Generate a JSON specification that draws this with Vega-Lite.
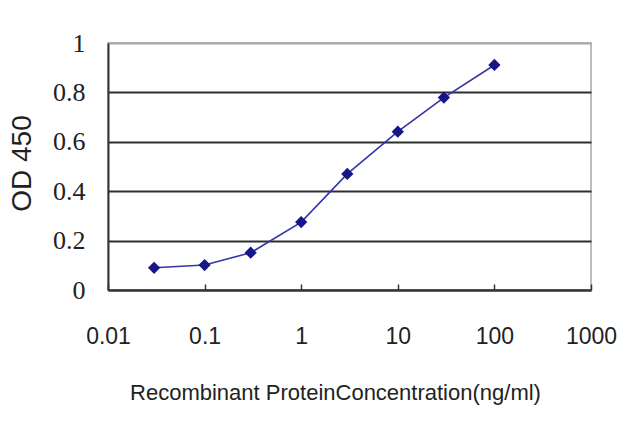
{
  "$schema": "https://vega.github.io/schema/vega-lite/v6.json",
  "width": 483,
  "height": 247,
  "autosize": {"type": "none"},
  "padding": {"left": 108, "top": 43, "right": 49, "bottom": 137},
  "background": "white",
  "config": {
    "view": {"stroke": "#a8a8a8", "strokeWidth": 1.5},
    "axis": {"labelColor": "#222", "titleColor": "#222", "titleFontWeight": "normal"}
  },
  "data": {
    "values": [
      {"conc": 0.03, "od": 0.09},
      {"conc": 0.1, "od": 0.101},
      {"conc": 0.3, "od": 0.151},
      {"conc": 1, "od": 0.275},
      {"conc": 3, "od": 0.47},
      {"conc": 10, "od": 0.641},
      {"conc": 30, "od": 0.779},
      {"conc": 100, "od": 0.911}
    ]
  },
  "encoding": {
    "x": {
      "field": "conc",
      "type": "quantitative",
      "scale": {"type": "log", "domain": [0.01, 1000], "nice": false},
      "axis": {
        "values": [0.01, 0.1, 1, 10, 100, 1000],
        "format": "~g",
        "grid": false,
        "domainColor": "#333333",
        "domainWidth": 2,
        "tickColor": "#333333",
        "tickWidth": 1.5,
        "tickSize": -6,
        "labelFont": "Liberation Sans",
        "labelFontSize": 23,
        "labelBaseline": "middle",
        "labelPadding": 52,
        "labelFlush": false,
        "title": "Recombinant ProteinConcentration(ng/ml)",
        "titleFont": "Liberation Sans",
        "titleFontSize": 22,
        "titleX": 227,
        "titleY": 102,
        "titleAlign": "center",
        "titleBaseline": "middle"
      }
    },
    "y": {
      "field": "od",
      "type": "quantitative",
      "scale": {"domain": [0, 1], "nice": false},
      "axis": {
        "values": [0, 0.2, 0.4, 0.6, 0.8, 1],
        "format": "~g",
        "grid": true,
        "gridColor": {"condition": {"test": "datum.value === 1", "value": "#a8a8a8"}, "value": "#2e2e2e"},
        "gridWidth": 2,
        "domainColor": "#333333",
        "domainWidth": 2,
        "tickSize": 0,
        "labelFont": "Liberation Sans Narrow",
        "labelFontSize": 26,
        "labelPadding": 23,
        "labelFlush": false,
        "title": "OD 450",
        "titleFont": "Liberation Sans",
        "titleFontSize": 28,
        "titleAngle": -90,
        "titleX": -86,
        "titleY": 120,
        "titleAlign": "center",
        "titleBaseline": "middle"
      }
    }
  },
  "layer": [
    {"mark": {"type": "line", "color": "#3535a8", "strokeWidth": 1.6}},
    {"mark": {"type": "point", "shape": "diamond", "filled": true, "opacity": 1, "size": 150, "color": "#16168a"}}
  ]
}
